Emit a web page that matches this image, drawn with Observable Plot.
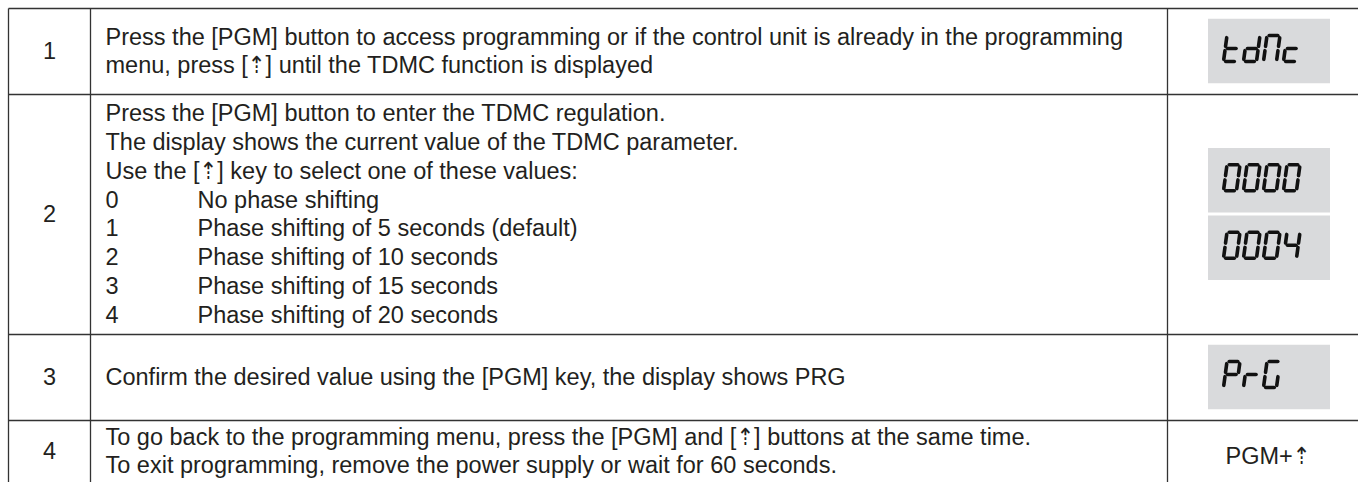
<!DOCTYPE html>
<html><head><meta charset="utf-8">
<script src="https://cdn.jsdelivr.net/npm/d3@7"></script>
<script src="https://cdn.jsdelivr.net/npm/@observablehq/plot@0.6"></script>
<style>html,body{margin:0;padding:0;background:#fff;} #chart svg{display:block}</style>
</head><body><div id="chart"></div>
<script>
// ---- content ----
const steps = ["1", "2", "3", "4"];
const instructions = [
  ["Press the [PGM] button to access programming or if the control unit is already in the programming",
   "menu, press [⇡] until the TDMC function is displayed"],
  ["Press the [PGM] button to enter the TDMC regulation.",
   "The display shows the current value of the TDMC parameter.",
   "Use the [⇡] key to select one of these values:"],
  ["Confirm the desired value using the [PGM] key, the display shows PRG"],
  ["To go back to the programming menu, press the [PGM] and [⇡] buttons at the same time.",
   "To exit programming, remove the power supply or wait for 60 seconds."]
];
const optionValues = ["0", "1", "2", "3", "4"];
const optionLabels = ["No phase shifting", "Phase shifting of 5 seconds (default)",
  "Phase shifting of 10 seconds", "Phase shifting of 15 seconds", "Phase shifting of 20 seconds"];
const displays = [["tdMc"], ["0000", "0004"], ["PrG"], []];
const keyLabels = ["", "", "", "PGM+⇡"];

// seven-segment map
const segmentsOf = {"0": "abcdef", "4": "bcfg", "t": "defg", "d": "bcdeg", "M": "abcef",
  "c": "deg", "P": "abefg", "r": "eg", "G": "acdef"};
const segGeom = {a: [0,0,1,0], b: [1,0,1,.5], c: [1,.5,1,1], d: [0,1,1,1], e: [0,.5,0,1], f: [0,0,0,.5], g: [0,.5,1,.5]};

// ---- layout ----
const W = 1358, H = 482;
const L = {left: 8, top: 8, col1: 90, col2: 1167, rowH: [86, 240, 86, 62],
  textX: 105, tabX: 197, lineH: 28.9, fontSize: 23.5,
  boxX: 1208, boxW: 122, boxH: 64.5, boxGap: 3,
  digitW: 13, digitH: 26, pitch: 20, slant: 3.5, digitDx: 15, digitDy: -3, segGap: 2.2};

const rowTop = [L.top];
L.rowH.forEach(h => rowTop.push(rowTop[rowTop.length - 1] + h));
const rowMid = L.rowH.map((h, i) => rowTop[i] + h / 2);

// text lines
const textLines = [];
const numLines = [];
instructions.forEach((lines, r) => {
  const all = lines.map(t => ({key: null, text: t}));
  if (r === 1) optionValues.forEach((v, k) => all.push({key: v, text: optionLabels[k]}));
  const n = all.length;
  all.forEach((ln, i) => {
    const y = rowMid[r] + (i - (n - 1) / 2) * L.lineH;
    if (ln.key === null) textLines.push({x: L.textX, y, text: ln.text});
    else { textLines.push({x: L.textX, y, text: ln.key}); textLines.push({x: L.tabX, y, text: ln.text}); }
  });
  numLines.push({x: (L.left + L.col1) / 2, y: rowMid[r], text: steps[r]});
});

// boxes & segments
const boxes = [], segs = [];
displays.forEach((ds, r) => {
  const n = ds.length;
  const total = n * L.boxH + (n - 1) * L.boxGap;
  ds.forEach((s, i) => {
    const y1 = rowMid[r] - total / 2 + i * (L.boxH + L.boxGap);
    boxes.push({x1: L.boxX, x2: L.boxX + L.boxW, y1, y2: y1 + L.boxH});
    const cy = y1 + L.boxH / 2 + L.digitDy;
    [...s].forEach((ch, k) => {
      const ox = L.boxX + L.digitDx + k * L.pitch, oy = cy - L.digitH / 2;
      for (const sg of segmentsOf[ch]) {
        const [ax, ay, bx, by] = segGeom[sg];
        const P = (u, v) => [ox + u * L.digitW + (1 - v) * L.slant, oy + v * L.digitH];
        const [X1, Y1] = P(ax, ay), [X2, Y2] = P(bx, by);
        const len = Math.hypot(X2 - X1, Y2 - Y1), ux = (X2 - X1) / len, uy = (Y2 - Y1) / len;
        segs.push({x1: X1 + ux * L.segGap, y1: Y1 + uy * L.segGap, x2: X2 - ux * L.segGap, y2: Y2 - uy * L.segGap});
      }
    });
  });
});
const keyTexts = keyLabels.map((t, r) => ({x: (L.col2 + W) / 2 + 5, y: rowMid[r] + 5, text: t})).filter(d => d.text);

// grid lines
const grid = [];
rowTop.slice(0, 4).forEach(y => grid.push({x1: L.left, y1: y, x2: W, y2: y}));
[L.left, L.col1, L.col2].forEach(x => grid.push({x1: x, y1: L.top, x2: x, y2: H}));

const font = "'Liberation Sans', 'DejaVu Sans Condensed', Arial, Helvetica, sans-serif";
const chart = Plot.plot({
  width: W, height: H, margin: 0,
  x: {domain: [0, W], range: [0, W], axis: null},
  y: {domain: [0, H], range: [0, H], axis: null},
  style: {fontFamily: font, background: "#fff"},
  marks: [
    Plot.rect(boxes, {x1: "x1", x2: "x2", y1: "y1", y2: "y2", fill: "#d9dadc"}),
    Plot.link(segs, {x1: "x1", y1: "y1", x2: "x2", y2: "y2", stroke: "#111", strokeWidth: 3.6, strokeLinecap: "round"}),
    Plot.link(grid, {x1: "x1", y1: "y1", x2: "x2", y2: "y2", stroke: "#333", strokeWidth: 1.3}),
    Plot.text(textLines, {x: "x", y: "y", text: "text", textAnchor: "start", fontSize: L.fontSize, fill: "#231f20", fontFamily: font}),
    Plot.text(numLines, {x: "x", y: "y", text: "text", fontSize: L.fontSize, fill: "#231f20", fontFamily: font}),
    Plot.text(keyTexts, {x: "x", y: "y", text: "text", fontSize: L.fontSize, fill: "#231f20", fontFamily: font})
  ]
});
document.getElementById("chart").appendChild(chart);
</script></body></html>
